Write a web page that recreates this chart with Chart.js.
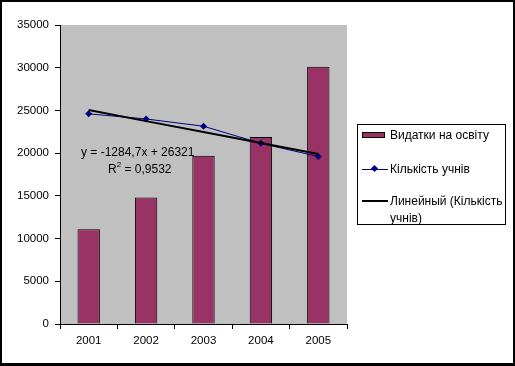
<!DOCTYPE html>
<html>
<head>
<meta charset="utf-8">
<script src="https://cdn.jsdelivr.net/npm/chart.js@4/dist/chart.umd.min.js"></script>
<style>
  html, body { margin: 0; padding: 0; background: #fff; }
  #wrap { position: relative; width: 515px; height: 366px; overflow: hidden; font-family: "Liberation Sans", Arial, sans-serif; }
  #frame { position: absolute; left: 0; top: 0; width: 515px; height: 366px; box-sizing: border-box; border-style: solid; border-color: #000; border-width: 2px 2px 3px 2px; pointer-events: none; }
  #legend { position: absolute; left: 357px; top: 124px; width: 149px; height: 101px; box-sizing: border-box; border: 1px solid #000; background: #fff; font-size: 12px; color: #000; }
  .item { position: absolute; left: 0; width: 100%; }
  .txt { position: absolute; left: 32px; width: 118px; line-height: 17px; white-space: normal; }
</style>
</head>
<body>
<div id="wrap">
  <canvas id="c" width="515" height="366"></canvas>
  <div id="legend"></div>
  <div id="frame"></div>
</div>
<script>
const categories = ["2001", "2002", "2003", "2004", "2005"];
const spending = [11100, 14800, 19700, 21900, 30100];
const pupils = [24600, 24000, 23150, 21150, 19600];
const trend = [25040, 23750, 22470, 21180, 19900];
const seriesLabels = ["Видатки на освіту", "Кількість учнів", "Линейный (Кількість учнів)"];
const equationLines = ["y = -1284,7x + 26321", "R", "2", " = 0,9532"];
const yTicks = [0, 5000, 10000, 15000, 20000, 25000, 30000, 35000];

const FONT = '"Liberation Sans", Arial, sans-serif';

const plotBg = {
  id: 'plotBg',
  beforeDraw(chart) {
    const { ctx, chartArea: a } = chart;
    ctx.save();
    ctx.fillStyle = '#C0C0C0';
    ctx.fillRect(a.left, a.top, a.right - a.left, a.bottom - a.top);
    ctx.restore();
  }
};

const eqLabel = {
  id: 'eqLabel',
  afterDatasetsDraw(chart) {
    const { ctx, chartArea: a } = chart;
    ctx.save();
    ctx.fillStyle = '#000';
    ctx.font = '12px ' + FONT;
    ctx.textBaseline = 'middle';
    ctx.textAlign = 'left';
    ctx.fillText(equationLines[0], a.left + 21, a.top + 128);
    let x = a.left + 48;
    const y = a.top + 145;
    ctx.fillText(equationLines[1], x, y);
    x += ctx.measureText(equationLines[1]).width;
    ctx.font = '8px ' + FONT;
    ctx.fillText(equationLines[2], x, y - 5);
    x += ctx.measureText(equationLines[2]).width;
    ctx.font = '12px ' + FONT;
    ctx.fillText(equationLines[3], x, y);
    ctx.restore();
  }
};

const chart = new Chart(document.getElementById('c'), {
  data: {
    labels: categories,
    datasets: [
      {
        type: 'bar',
        label: seriesLabels[0],
        data: spending,
        backgroundColor: '#993366',
        borderColor: '#000',
        borderWidth: 1,
        barPercentage: 0.39,
        categoryPercentage: 1,
        order: 3
      },
      {
        type: 'line',
        label: seriesLabels[1],
        data: pupils,
        borderColor: '#000080',
        backgroundColor: '#000080',
        borderWidth: 1,
        pointStyle: 'rectRot',
        pointRadius: 3.5,
        pointBorderWidth: 0,
        tension: 0,
        order: 2
      },
      {
        type: 'line',
        label: seriesLabels[2],
        data: trend,
        borderColor: '#000',
        borderWidth: 2,
        pointRadius: 0,
        tension: 0,
        order: 1
      }
    ]
  },
  options: {
    responsive: false,
    animation: false,
    devicePixelRatio: 1,
    layout: { padding: { top: 25, right: 168, left: 0, bottom: 0 } },
    plugins: { legend: { display: false }, tooltip: { enabled: false } },
    scales: {
      x: {
        offset: true,
        grid: { display: true, drawOnChartArea: false, offset: true, tickLength: 5, color: '#000' },
        border: { color: '#000', width: 1 },
        ticks: { color: '#000', font: { family: FONT, size: 11.5 }, padding: 5, maxRotation: 0 },
        afterFit(s) { s.height = 42; }
      },
      y: {
        min: 0, max: 35000,
        afterBuildTicks(s) { s.ticks = yTicks.map(v => ({ value: v })); },
        grid: { display: true, drawOnChartArea: false, tickLength: 5, color: '#000' },
        border: { color: '#000', width: 1 },
        ticks: { color: '#000', font: { family: FONT, size: 11.5 }, padding: 6, callback: v => String(v) },
        afterFit(s) { s.width = 60; }
      }
    }
  },
  plugins: [plotBg, eqLabel]
});

const legend = document.getElementById('legend');
const ds = chart.data.datasets;
const rows = [10, 44, 76];
ds.forEach((d, i) => {
  const it = document.createElement('div');
  it.className = 'item';
  it.style.top = rows[i] + 'px';
  let sw = '';
  if (i === 0) {
    sw = `<div style="position:absolute;left:4px;top:-3px;width:23px;height:6px;box-sizing:border-box;background:${d.backgroundColor};border:1px solid #000"></div>`;
  } else if (i === 1) {
    sw = `<div style="position:absolute;left:4px;top:-0.5px;width:26px;height:1px;background:${d.borderColor}"></div>` +
         `<div style="position:absolute;left:14px;top:-3px;width:5px;height:5px;background:${d.borderColor};transform:rotate(45deg)"></div>`;
  } else {
    sw = `<div style="position:absolute;left:4px;top:-1px;width:26px;height:2px;background:${d.borderColor}"></div>`;
  }
  it.innerHTML = sw + `<div class="txt" style="top:-8.5px">${d.label}</div>`;
  legend.appendChild(it);
});
</script>
</body>
</html>
